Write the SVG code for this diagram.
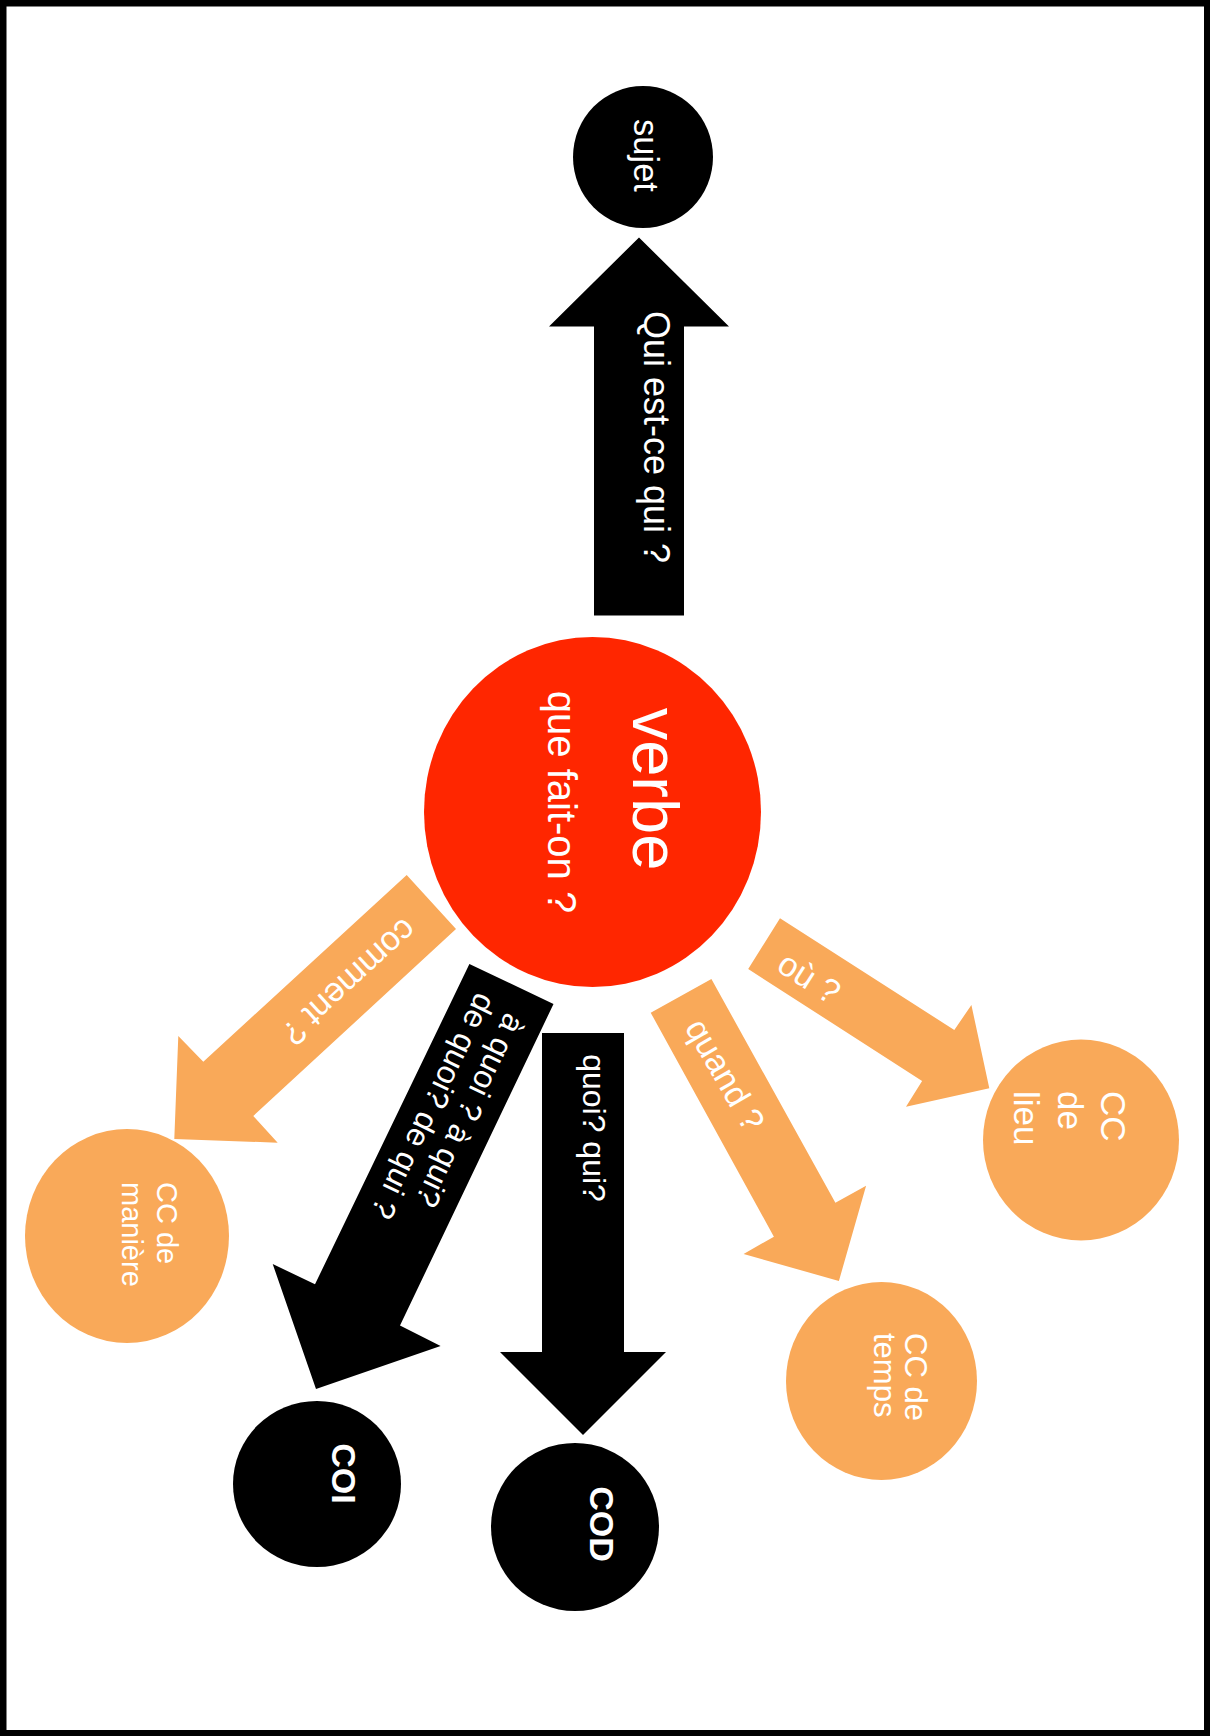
<svg xmlns="http://www.w3.org/2000/svg" width="1210" height="1736" viewBox="0 0 1210 1736">
  <style>
    .blk { fill: #000000; }
    .org { fill: #F9A959; }
    .red { fill: #FF2600; }
    text { font-family: "Liberation Sans", Arial, Helvetica, sans-serif; fill: #FFFFFF; }
    .b { font-weight: bold; }
    .mid { text-anchor: middle; }
  </style>
  <rect x="3.25" y="3.25" width="1204" height="1730" fill="#FFFFFF" stroke="#000000" stroke-width="6.5"/>

  <g id="connectors">
    <g id="arrow-sujet">
      <polygon class="blk" points="594,615.5 594,326.5 549,326.5 639,237.5 729,326.5 684,326.5 684,615.5"/>
      <text class="mid" font-size="36" transform="translate(644 437) rotate(90)">Qui est-ce qui ?</text>
    </g>
    <g id="arrow-cod">
      <polygon class="blk" points="542,1033 624,1033 624,1352 666,1352 583,1435 500,1352 542,1352"/>
      <text class="mid" font-size="32" transform="translate(583 1128) rotate(90)">quoi? qui?</text>
    </g>
    <g id="arrow-coi">
      <polygon class="blk" points="469.4,964 553.5,1004 400,1325.5 440.6,1346 316,1389 272.7,1264 315,1284.3"/>
      <text class="mid" font-size="32" transform="translate(511.5 984) rotate(115.8)"><tspan x="132" y="-7">à quoi ? à qui?</tspan><tspan x="144" y="28">de quoi? de qui ?</tspan></text>
    </g>
    <g id="arrow-lieu">
      <polygon class="org" points="780,918.3 954.3,1030 971.4,1005 989.3,1088.3 906,1106.7 922.1,1081 748.2,969"/>
      <text class="mid" font-size="34" transform="translate(803 987.6) rotate(32.6)">où ?</text>
    </g>
    <g id="arrow-temps">
      <polygon class="org" points="711.4,979 835.4,1202.7 866.1,1185.7 838.9,1281 743.6,1254 773.9,1236.7 650.7,1012.7"/>
      <text class="mid" font-size="34" transform="translate(715 1080.6) rotate(60)">quand ?</text>
    </g>
    <g id="arrow-maniere">
      <polygon class="org" points="406.7,875 456,929 253.3,1116 277.7,1142.7 174.3,1139 178.3,1036 203.3,1061.7"/>
      <text class="mid" font-size="34" transform="translate(341.7 973.4) rotate(137.5)">comment ?</text>
    </g>
  </g>

  <g id="node-sujet">
    <ellipse class="blk" cx="643" cy="157" rx="70" ry="71"/>
    <text class="mid" font-size="34.5" transform="translate(634 155.5) rotate(90)">sujet</text>
  </g>

  <g id="node-verbe">
    <ellipse class="red" cx="592.5" cy="812" rx="168.5" ry="175"/>
    <text class="mid" font-size="65" transform="translate(633 789) rotate(90)">verbe</text>
    <text class="mid" font-size="40" transform="translate(548 802) rotate(90)">que fait-on ?</text>
  </g>

  <g id="node-cod">
    <ellipse class="blk" cx="575" cy="1527" rx="84" ry="84"/>
    <text class="mid b" font-size="34" transform="translate(590 1524) rotate(90)">COD</text>
  </g>

  <g id="node-coi">
    <ellipse class="blk" cx="317" cy="1484" rx="84" ry="83"/>
    <text class="mid b" font-size="34" transform="translate(332 1473.5) rotate(90)">COI</text>
  </g>

  <g id="node-cc-lieu">
    <ellipse class="org" cx="1081" cy="1140" rx="98" ry="100.5"/>
    <text font-size="35" transform="translate(1100.5 1091) rotate(90)"><tspan x="0" y="0">CC</tspan><tspan x="0" y="43">de</tspan><tspan x="0" y="87">lieu</tspan></text>
  </g>

  <g id="node-cc-temps">
    <ellipse class="org" cx="881.5" cy="1381" rx="95.5" ry="99"/>
    <text font-size="31" transform="translate(905 1333) rotate(90)"><tspan x="0" y="0">CC de</tspan><tspan x="0" y="31">temps</tspan></text>
  </g>

  <g id="node-cc-maniere">
    <ellipse class="org" cx="127" cy="1236" rx="102" ry="107"/>
    <text font-size="29" transform="translate(157 1182) rotate(90)"><tspan x="0" y="0">CC de</tspan><tspan x="0" y="35">manière</tspan></text>
  </g>
</svg>
